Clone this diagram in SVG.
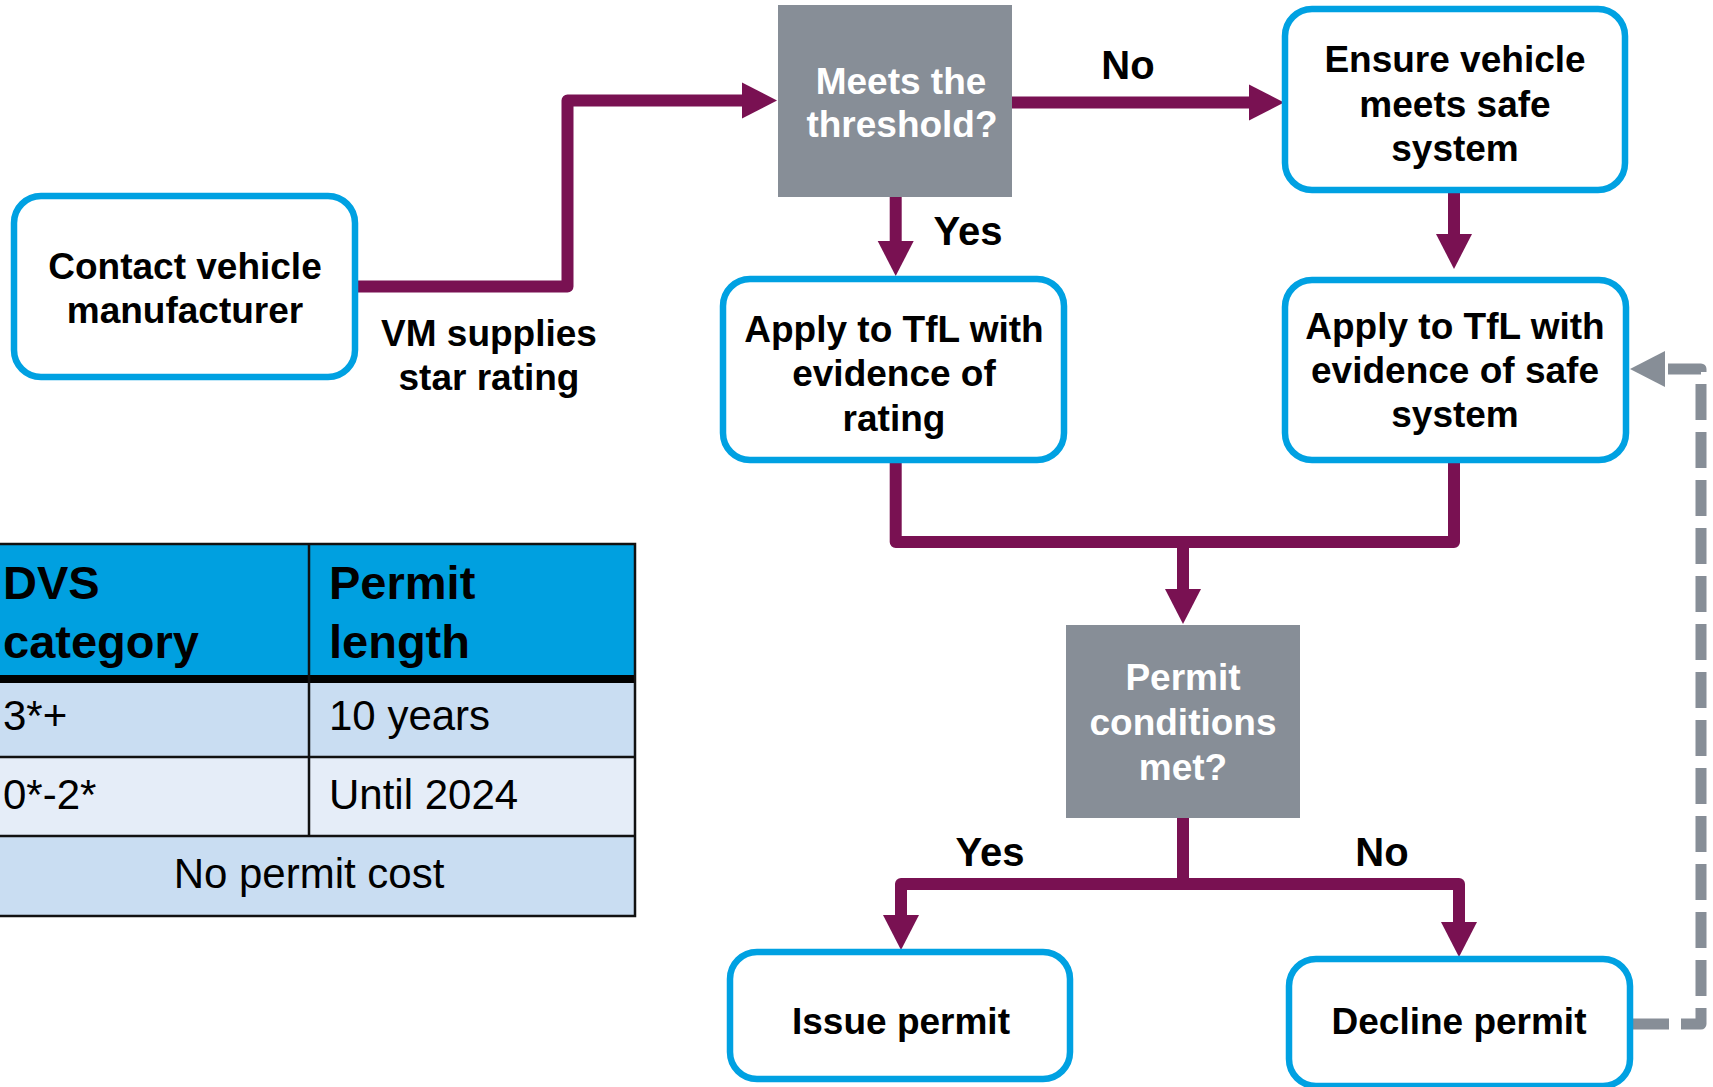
<svg xmlns="http://www.w3.org/2000/svg" width="1713" height="1087" viewBox="0 0 1713 1087">
<style>
.box{fill:#fff;stroke:#00A1E2;stroke-width:6.5}
.dec{fill:#878E97}
.t{font-family:"Liberation Sans",Arial,sans-serif;font-weight:bold;font-size:37px;fill:#000;text-anchor:middle}
.w{fill:#fff}
.lbl{font-family:"Liberation Sans",Arial,sans-serif;font-weight:bold;font-size:40px;fill:#000;text-anchor:middle}
.conn{fill:none;stroke:#791152;stroke-width:12;stroke-linejoin:round}
.dash{fill:none;stroke:#878E97;stroke-width:11;stroke-dasharray:36 12;stroke-linejoin:round}
.th{font-family:"Liberation Sans",Arial,sans-serif;font-weight:bold;font-size:47px;fill:#000}
.td{font-family:"Liberation Sans",Arial,sans-serif;font-size:42px;fill:#000}
.grid{stroke:#111;stroke-width:2.5;fill:none}
</style>
<defs>
<marker id="ah" markerUnits="userSpaceOnUse" markerWidth="36" markerHeight="38" viewBox="0 -19 36 38" refX="1" refY="0" orient="auto"><path d="M0,-18 L35,0 L0,18 z" fill="#791152"/></marker>
<marker id="ahg" markerUnits="userSpaceOnUse" markerWidth="36" markerHeight="38" viewBox="0 -19 36 38" refX="1" refY="0" orient="auto"><path d="M0,-18 L35,0 L0,18 z" fill="#878E97"/></marker>
</defs>

<g id="connectors">
<path class="conn" d="M358 286.5 H567.5 V100.5 H743" marker-end="url(#ah)"/>
<path class="conn" d="M1012 102.5 H1250" marker-end="url(#ah)"/>
<path class="conn" d="M895.7 197 V242" marker-end="url(#ah)"/>
<path class="conn" d="M1454 193 V235" marker-end="url(#ah)"/>
<path class="conn" d="M895.7 463 V542 H1454 V463"/>
<path class="conn" d="M1183 542 V590" marker-end="url(#ah)"/>
<path class="conn" d="M1183 818 V884 H901 V916" marker-end="url(#ah)"/>
<path class="conn" d="M1183 884 H1459 V923" marker-end="url(#ah)"/>
<path class="dash" d="M1633 1024 H1701 V369 H1664" marker-end="url(#ahg)"/>
</g>

<g id="label-vm">
<text class="t" x="489" y="346">VM supplies</text>
<text class="t" x="489" y="390">star rating</text>
</g>
<g id="label-no1"><text class="lbl" x="1128" y="79">No</text></g>
<g id="label-yes1"><text class="lbl" x="968" y="245">Yes</text></g>
<g id="label-yes2"><text class="lbl" x="990" y="866">Yes</text></g>
<g id="label-no2"><text class="lbl" x="1382" y="866">No</text></g>

<g id="contact">
<rect class="box" x="14" y="196" width="341" height="181" rx="27"/>
<text class="t" x="185" y="279">Contact vehicle</text>
<text class="t" x="185" y="323">manufacturer</text>
</g>

<g id="meets">
<rect class="dec" x="778" y="5" width="234" height="192"/>
<text class="t w" x="901" y="94">Meets the</text>
<text class="t w" x="902" y="137">threshold?</text>
</g>

<g id="ensure">
<rect class="box" x="1285" y="9" width="340" height="181" rx="27"/>
<text class="t" x="1455" y="72">Ensure vehicle</text>
<text class="t" x="1455" y="117">meets safe</text>
<text class="t" x="1455" y="161">system</text>
</g>

<g id="apply-rating">
<rect class="box" x="723" y="279" width="341" height="181" rx="27"/>
<text class="t" x="894" y="342">Apply to TfL with</text>
<text class="t" x="894" y="386">evidence of</text>
<text class="t" x="894" y="431">rating</text>
</g>

<g id="apply-safe">
<rect class="box" x="1285" y="280" width="341" height="180" rx="27"/>
<text class="t" x="1455" y="339">Apply to TfL with</text>
<text class="t" x="1455" y="383">evidence of safe</text>
<text class="t" x="1455" y="427">system</text>
</g>

<g id="permit-cond">
<rect class="dec" x="1066" y="625" width="234" height="193"/>
<text class="t w" x="1183" y="690">Permit</text>
<text class="t w" x="1183" y="735">conditions</text>
<text class="t w" x="1183" y="780">met?</text>
</g>

<g id="issue">
<rect class="box" x="730" y="952" width="340" height="127" rx="27"/>
<text class="t" x="901" y="1034">Issue permit</text>
</g>

<g id="decline">
<rect class="box" x="1289" y="959" width="341" height="127" rx="27"/>
<text class="t" x="1459" y="1034">Decline permit</text>
</g>

<g id="table">
<rect x="-5" y="544" width="640" height="135" fill="#00A0E0"/>
<rect x="-5" y="683" width="640" height="74" fill="#C9DDF2"/>
<rect x="-5" y="757" width="640" height="79" fill="#E5EDF8"/>
<rect x="-5" y="836" width="640" height="80" fill="#C9DDF2"/>
<line x1="-5" y1="679" x2="636" y2="679" stroke="#000" stroke-width="8"/>
<path class="grid" d="M-5 544 H635 V916 H-5 M-5 757 H635 M-5 836 H635 M309 544 V836"/>
<text class="th" x="3" y="599">DVS</text>
<text class="th" x="3" y="658">category</text>
<text class="th" x="329" y="599">Permit</text>
<text class="th" x="329" y="658">length</text>
<text class="td" x="3" y="730">3*+</text>
<text class="td" x="329" y="730">10 years</text>
<text class="td" x="3" y="809">0*-2*</text>
<text class="td" x="329" y="809">Until 2024</text>
<text class="td" x="309" y="888" font-size="41" text-anchor="middle">No permit cost</text>
</g>
</svg>
